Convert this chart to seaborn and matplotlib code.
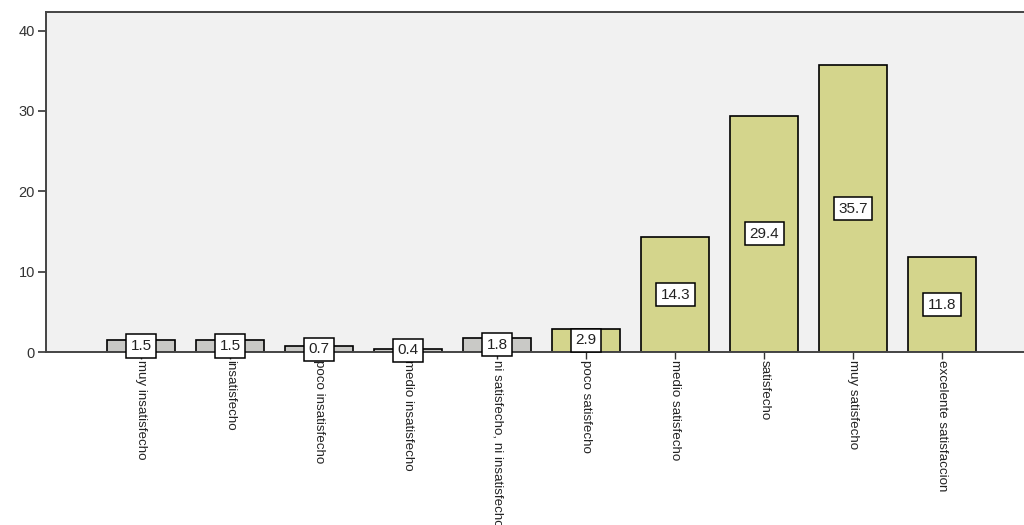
import matplotlib
matplotlib.use("Agg")
import matplotlib.pyplot as plt
import seaborn as sns
import pandas as pd

categories = [
    "muy insatisfecho",
    "insatisfecho",
    "poco insatisfecho",
    "medio insatisfecho",
    "ni satisfecho, ni insatisfecho",
    "poco satisfecho",
    "medio satisfecho",
    "satisfecho",
    "muy satisfecho",
    "excelente satisfaccion",
]
percentages = [1.5, 1.5, 0.7, 0.4, 1.8, 2.9, 14.3, 29.4, 35.7, 11.8]
y_ticks = [0, 10, 20, 30, 40]

gray = "#c9c9c6"
olive = "#d4d58c"
bar_colors = [gray] * 5 + [olive] * 5

sns.set_theme(style="white")
plt.rcParams["font.family"] = ["Liberation Sans", "DejaVu Sans"]

df = pd.DataFrame({"categoria": categories, "porcentaje": percentages})

fig = plt.figure(figsize=(10.24, 5.25), dpi=100)
ax = fig.add_axes([0.045, 0.3295, 0.955, 0.6475])
ax.set_facecolor("#f1f1f1")

sns.barplot(
    data=df, x="categoria", y="porcentaje", hue="categoria",
    palette=bar_colors, legend=False, width=0.76,
    edgecolor="black", linewidth=1.2, saturation=1, ax=ax,
)

for i, v in enumerate(percentages):
    ax.text(
        i, v / 2, f"{v:.1f}", ha="center", va="center", fontsize=11,
        color="#222222",
        bbox=dict(boxstyle="square,pad=0.3", facecolor="white",
                  edgecolor="black", linewidth=1.1),
        zorder=5,
    )

ax.set_xlim(-1.07, 9.92)
ax.set_ylim(0, 42.3)
ax.set_yticks(y_ticks)
ax.set_yticklabels([str(t) for t in y_ticks], fontsize=10.5, color="#333333")
ax.set_xticks(range(len(categories)))
ax.set_xticklabels(categories, rotation=-90, ha="center", va="top",
                   fontsize=9.6, color="#222222")
for lbl in ax.get_xticklabels():
    lbl.set_fontstretch("condensed")
ax.set_xlabel("")
ax.set_ylabel("")

ax.tick_params(axis="y", direction="out", length=6, width=1.2, color="#333333",
               left=True, pad=2)
ax.tick_params(axis="x", direction="out", length=5, width=1.0, color="#333333",
               bottom=True, pad=1)

for side in ["left", "bottom", "top"]:
    ax.spines[side].set_visible(True)
    ax.spines[side].set_color("#444444")
    ax.spines[side].set_linewidth(1.4)
ax.spines["right"].set_visible(False)

fig.savefig("out.png", dpi=100, facecolor="white")
